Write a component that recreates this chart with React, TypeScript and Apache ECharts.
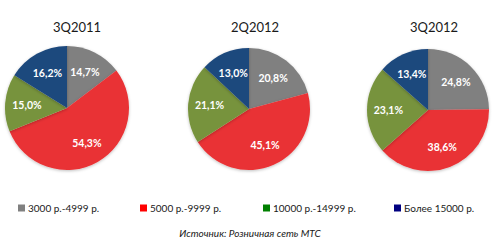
import React, { useEffect, useRef } from "react";
import * as echarts from "echarts";

const periods = ["3Q2011", "2Q2012", "3Q2012"];
const categories = ["3000 р.-4999 р.", "5000 р.-9999 р.", "10000 р.-14999 р.", "Более 15000 р."];
const values2011Q3 = [14.7, 54.3, 15.0, 16.2];
const values2012Q2 = [20.8, 45.1, 21.1, 13.0];
const values2012Q3 = [24.8, 38.6, 23.1, 13.4];
const seriesValues = [values2011Q3, values2012Q2, values2012Q3];
const sourceText = "Источник: Розничная сеть МТС";

const sliceColors = ["#808080", "#E93336", "#77933C", "#1F497D"];
const legendColors = ["#808080", "#FF0000", "#008000", "#000080"];

const centers: [number, number][] = [[67, 108], [249, 109], [428, 110]];
const radii = [62, 61, 61];
const titleX = [72, 250, 429];
const legendX = [18, 140, 263, 394];

const FONT = "Lato, 'Open Sans', sans-serif";

export default function App() {
  const ref = useRef<HTMLDivElement>(null);
  useEffect(() => {
    if (!ref.current) return;
    const chart = echarts.init(ref.current, null, { renderer: "svg" });
    const series: any[] = [];
    seriesValues.forEach((vals, i) => {
      series.push({
        type: "pie",
        center: centers[i],
        radius: [0, radii[i]],
        startAngle: 90,
        clockwise: true,
        silent: true,
        label: { show: false },
        labelLine: { show: false },
        itemStyle: { borderWidth: 0, shadowBlur: 3, shadowColor: "rgba(0,0,0,0.25)", shadowOffsetY: 1 },
        data: vals.map((v, j) => ({ name: categories[j], value: v, itemStyle: { color: sliceColors[j] } })),
      });
      series.push({
        type: "pie",
        center: centers[i],
        radius: [0, radii[i] * 1.2],
        startAngle: 90,
        clockwise: true,
        silent: true,
        z: 5,
        itemStyle: { color: "rgba(0,0,0,0)", borderWidth: 0 },
        label: {
          show: true,
          position: "inside",
          color: "#ffffff",
          fontWeight: "bold",
          fontSize: 10.5,
          fontFamily: FONT,
          formatter: (p: any) => p.value.toFixed(1).replace(".", ",") + "%",
        },
        labelLine: { show: false },
        data: vals.map((v, j) => ({ name: categories[j], value: v })),
      });
    });
    chart.setOption({
      animation: false,
      backgroundColor: "#ffffff",
      title: periods.map((p, i) => ({
        text: p,
        left: titleX[i],
        top: 15,
        textAlign: "center",
        textStyle: { fontSize: 13, fontWeight: "normal", color: "#1a1a1a", fontFamily: FONT },
      })),
      legend: categories.map((c, i) => ({
        data: [{ name: c, itemStyle: { color: legendColors[i] } }],
        left: legendX[i],
        top: 203,
        padding: 0,
        icon: "rect",
        itemWidth: 7,
        itemHeight: 7,
        itemGap: 3,
        selectedMode: false,
        textStyle: { fontSize: 10, color: "#1a1a1a", fontFamily: FONT, padding: [0, 0, 0, -2] },
      })),
      graphic: [
        {
          type: "text",
          left: "center",
          top: 228,
          style: {
            text: sourceText,
            fontSize: 10,
            fontStyle: "italic",
            fill: "#1a1a1a",
            fontFamily: FONT,
          },
        },
      ],
      series,
    });
    return () => chart.dispose();
  }, []);
  return <div ref={ref} style={{ width: 500, height: 244, position: "absolute", left: 0, top: 0 }} />;
}
